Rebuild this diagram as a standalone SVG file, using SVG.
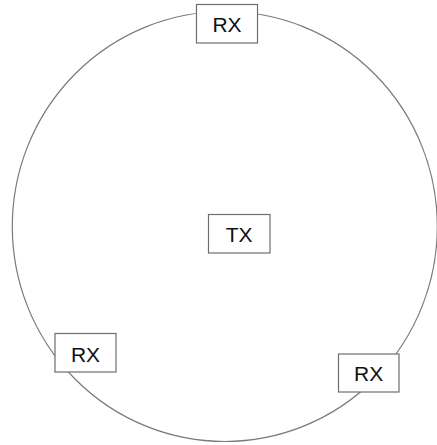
<svg xmlns="http://www.w3.org/2000/svg" width="437" height="445" viewBox="0 0 437 445">
  <style>
    .ring { fill: none; stroke: #7a7a7a; stroke-width: 1.2; }
    .box { fill: #ffffff; stroke: #6e6e6e; stroke-width: 1.2; }
    .lbl { font-family: "Liberation Sans", Arial, sans-serif; font-size: 21px; fill: #111111; text-anchor: middle; }
  </style>
  <rect width="437" height="445" fill="#ffffff"/>
  <g id="connectors">
    <ellipse class="ring" cx="224.8" cy="226.5" rx="212.5" ry="215"/>
  </g>
  <g id="rx-top">
    <rect class="box" x="196.5" y="4.5" width="61" height="38.5"/>
    <text class="lbl" x="227" y="31.5">RX</text>
  </g>
  <g id="tx">
    <rect class="box" x="208.5" y="214.5" width="61.5" height="38.5"/>
    <text class="lbl" x="239.2" y="241.5">TX</text>
  </g>
  <g id="rx-left">
    <rect class="box" x="55" y="333.5" width="61" height="38.5"/>
    <text class="lbl" x="85.5" y="361.5">RX</text>
  </g>
  <g id="rx-right">
    <rect class="box" x="338.5" y="354" width="60.5" height="38"/>
    <text class="lbl" x="368.7" y="380.7">RX</text>
  </g>
</svg>
